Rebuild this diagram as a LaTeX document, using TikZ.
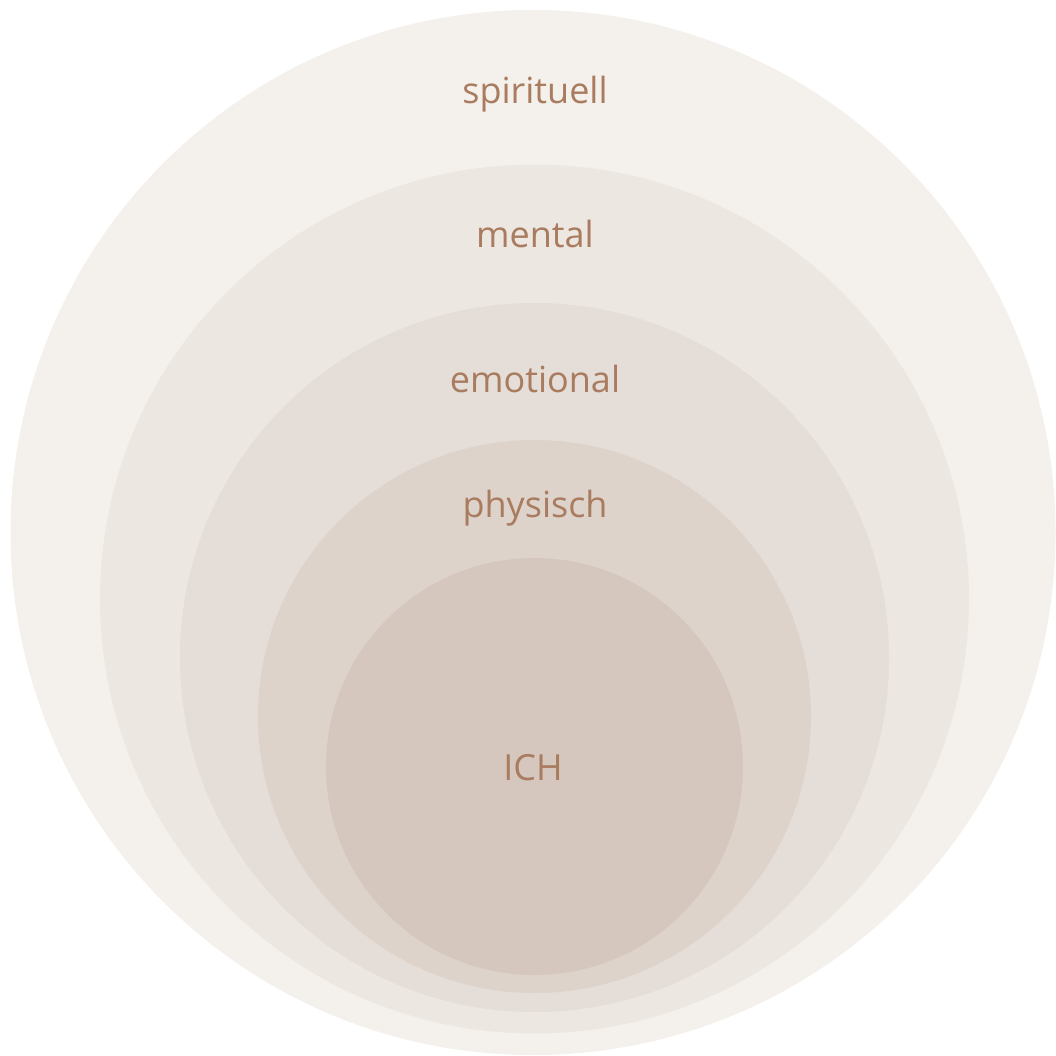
\documentclass[tikz,border=0pt]{standalone}
\usepackage{fontspec}
\setmainfont{Open Sans}
\definecolor{c1}{HTML}{F4F1EC}
\definecolor{c2}{HTML}{ECE7E1}
\definecolor{c3}{HTML}{E5DDD7}
\definecolor{c4}{HTML}{DDD3CB}
\definecolor{c5}{HTML}{D5C7BE}
\definecolor{txt}{HTML}{A97B5F}
\begin{document}
\begin{tikzpicture}[x=1pt,y=-1pt,
  lbl/.style={anchor=base,inner sep=0pt,text=txt,font=\fontsize{36}{43}\selectfont}]
\useasboundingbox (0,0) rectangle (1056,1055);
\fill[white] (0,0) rectangle (1056,1055);
\fill[c1] (533,532.5) circle[radius=522.5];
\fill[c2] (534.5,599) circle[radius=434.5];
\fill[c3] (534.5,657.5) circle[radius=354.5];
\fill[c4] (534.5,716.5) circle[radius=276.5];
\fill[c5] (534.5,766.5) circle[radius=208.5];
\node[lbl] (spi) at (535,103) {spirituell};
\node[lbl] (men) at (535,247) {mental};
\node[lbl] (emo) at (535,392) {emotional};
\node[lbl] (phy) at (535,517) {physisch};
\node[lbl] (ich) at (533,780) {ICH};
\end{tikzpicture}
\end{document}
